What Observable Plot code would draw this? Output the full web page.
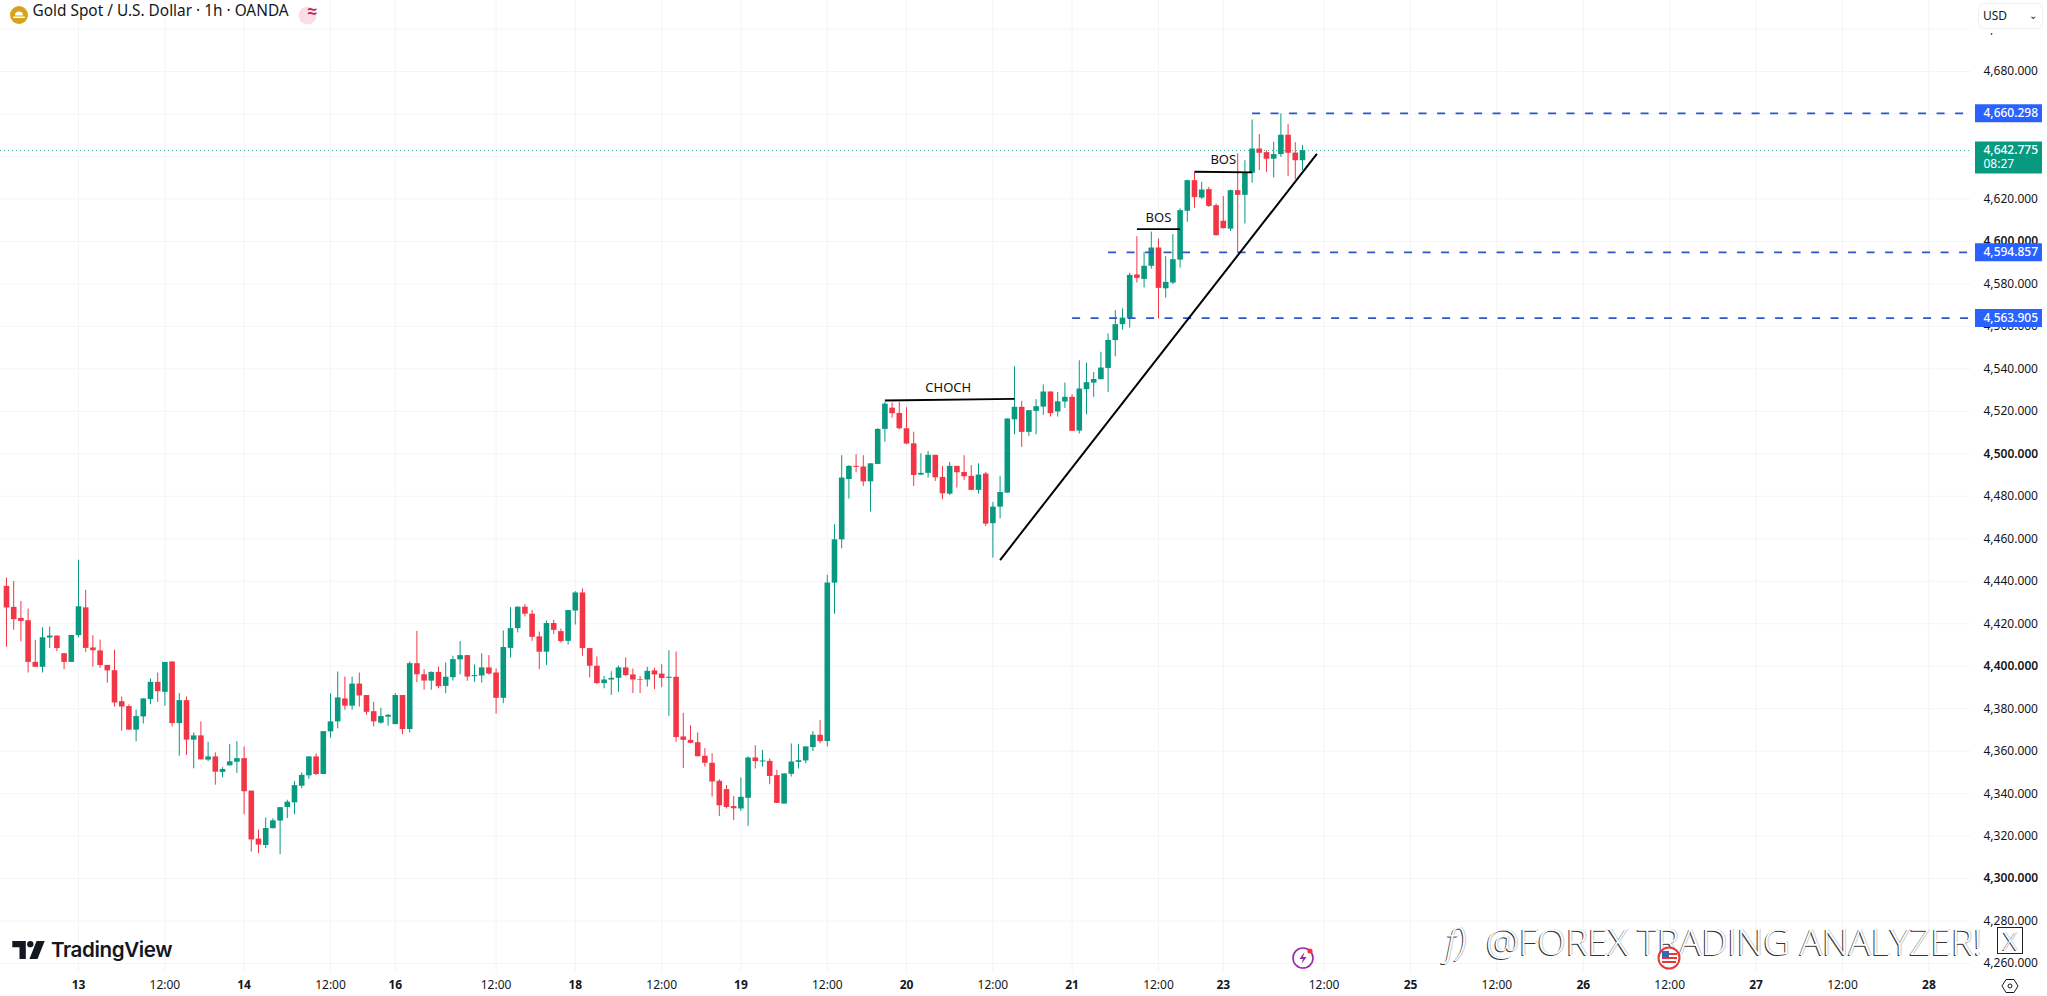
<!DOCTYPE html>
<html><head><meta charset="utf-8">
<style>
html,body{margin:0;padding:0;background:#fff;width:2047px;height:996px;overflow:hidden}
#wrap{position:relative;width:2047px;height:996px}
.ov{position:absolute;pointer-events:none}
#usd{left:1978px;top:3px;width:65px;height:26px;background:#fff;border:1px solid #f0f0f0;border-radius:6px;box-sizing:border-box;font:12px "Noto Sans",sans-serif;color:#131722;line-height:24px;padding-left:4px;box-shadow:0 4px 0 #fff}
#usd span{position:absolute;right:5px;top:-1px;font-size:10px}
#tv{left:51px;top:935px;font:600 20.6px Inter,sans-serif;color:#131722;letter-spacing:-.4px;line-height:30px}
.wm{color:#fff;text-shadow:-1px 1px 0 #333,1px 0 0 #ccc;font-family:"Open Sans",sans-serif;font-weight:300;white-space:nowrap;line-height:40px}
</style>
<script src="https://cdn.jsdelivr.net/npm/d3@7"></script>
<script src="https://cdn.jsdelivr.net/npm/@observablehq/plot@0.6"></script>
</head><body><div id="wrap"></div>
<script>
const opens=[4437.6,4427.7,4422.5,4421.4,4401.8,4399.5,4413.3,4414.2,4405.9,4401.8,4414.4,4427.5,4408.6,4407.2,4400.4,4397.9,4383.3,4381,4369.9,4376.1,4384.3,4392.4,4387.7,4402,4373,4383.8,4365.2,4367.2,4355.8,4357.3,4350,4353.1,4354.8,4356.5,4341.2,4318.6,4315.6,4323.5,4327.1,4333.5,4335.7,4343.5,4348.4,4357.3,4349,4369.1,4373.8,4384.6,4381.2,4391.6,4386.2,4378.6,4373.2,4376,4372.5,4386.2,4370.2,4401.2,4396,4393,4397.1,4390.5,4394.6,4403,4405,4395.1,4395.4,4399.2,4396.8,4384.9,4408.4,4417.7,4427.8,4424.5,4413.8,4406.6,4420.1,4416.3,4411.7,4426,4434.5,4408.3,4400,4391.8,4393.5,4394.3,4399.2,4395.9,4393.7,4393.5,4397.8,4396.3,4394.3,4394.8,4366.7,4365.1,4364,4357.6,4354.3,4345.8,4341.9,4333.9,4332.8,4337.8,4356.8,4354.9,4355.2,4348.5,4335.1,4349.1,4354.7,4355.4,4361.7,4367.5,4364.5,4439.1,4459.5,4487.9,4494.1,4493.8,4486.8,4495,4511.5,4521.5,4519,4511.8,4504.7,4490,4490.8,4499.3,4488.9,4481,4494.1,4491.2,4489.4,4482.8,4490.5,4467.1,4474.9,4481.5,4516,4521.9,4510.1,4520,4522,4529.1,4519.7,4524.4,4526.6,4510.7,4530.2,4533.3,4534.9,4540.2,4553.3,4560.8,4563.8,4584.2,4582.1,4588.3,4596.9,4577.7,4580.4,4591.2,4614.2,4628.6,4620.4,4624.4,4616.8,4609.5,4605.8,4623.9,4621.7,4632.1,4643.5,4641.8,4638.7,4640.9,4650,4641.6,4638];
const highs=[4441.5,4439.9,4430.5,4426.9,4412.2,4418.1,4418.4,4414.2,4405.9,4414.5,4449.9,4435.7,4414.4,4412.3,4400.4,4407.5,4385.5,4381.8,4379.3,4384.6,4394,4396.8,4401.8,4402,4387.1,4385.5,4368.6,4373.8,4364.2,4359.2,4352.2,4363.1,4364.5,4362,4341.2,4322.9,4328.5,4328.2,4333.4,4336.9,4345.7,4349.8,4357.3,4358.7,4369.2,4387,4397.3,4394.9,4394.9,4396.8,4386.2,4383,4380.2,4377.1,4387.1,4386.2,4402,4416.4,4398.4,4397.3,4399.6,4401.5,4404.7,4411.6,4405,4400.6,4405.9,4405,4398.7,4416.6,4427.6,4427.9,4429,4426.3,4416.1,4421.3,4421.6,4417.5,4426.3,4435.1,4436.4,4408.4,4404.4,4395.2,4397.4,4400.1,4403.9,4398.7,4395.2,4399.5,4399,4400.7,4407.3,4406.7,4377.8,4372,4368.6,4361.2,4358.8,4346.6,4343.8,4338.7,4347.4,4357.3,4362.6,4360.4,4356.3,4351,4349.3,4363.4,4363.2,4362,4369.2,4374.4,4442.8,4466.6,4499.1,4494.4,4499.6,4499.1,4495.3,4511.8,4524.2,4523.9,4524.2,4521.7,4510.2,4500,4501.1,4499.3,4494.1,4495.9,4494.1,4499.1,4494.5,4495.3,4491.2,4477.1,4489.4,4516.4,4541,4524.7,4520.4,4525.5,4532.5,4529.1,4528.9,4533.3,4527.8,4543.8,4542.7,4538.3,4547.8,4556.4,4567.4,4568.2,4585,4602.2,4594.9,4604.4,4601.1,4592.8,4603.2,4615.3,4628.9,4632.5,4627.8,4625.5,4617.6,4621.1,4624.2,4641.2,4638,4657.2,4650.3,4642.7,4646.7,4660,4655,4646.5,4645.1];
const lows=[4408.9,4416.9,4411.5,4396.8,4399.5,4396.8,4408.4,4406.8,4398.4,4401.8,4413.3,4406.5,4399.5,4399,4392,4380.8,4369.4,4369.9,4364.4,4372.8,4381.9,4383,4381.2,4371.4,4357.6,4358,4351.7,4355.9,4355.1,4344,4347.5,4353.1,4349.5,4330.1,4312.5,4311.7,4314.1,4323.5,4311.3,4328.3,4330.1,4342.3,4346.7,4348.6,4349,4366.1,4370.5,4379.3,4379.3,4380.7,4376.9,4371.4,4372.7,4371.7,4372.5,4367.7,4368.6,4392.3,4388.7,4388.7,4389.4,4387.1,4393,4396,4392.9,4392.4,4392.1,4395.9,4377.5,4382.4,4403.9,4415.7,4423.2,4411.7,4398.4,4400.4,4414.9,4411,4410,4419.4,4404.7,4394.5,4391.3,4389.4,4386.3,4387.7,4395.2,4387.1,4387.1,4390.2,4389,4389.9,4376.4,4364.2,4351.9,4363.5,4357.3,4352.5,4338.4,4329.3,4332.8,4327.3,4331.7,4324.6,4351.6,4352.5,4344.2,4335.3,4335.1,4347.8,4351.6,4354.1,4359.9,4363.5,4362,4424.5,4455.3,4478.7,4491.2,4484.6,4472.6,4495,4505.4,4516.8,4511.3,4504.3,4484.6,4489.7,4488.6,4487,4478.4,4480.4,4483.9,4487.5,4482.6,4481,4465.8,4450.9,4469.4,4481.5,4509,4503,4508.2,4509,4518.1,4517.3,4517.3,4521.4,4510.6,4509.3,4518.4,4526.6,4534.9,4528.9,4545.7,4558.3,4559.2,4580.4,4578.1,4587,4563.5,4573.3,4579.6,4587.5,4609,4615.6,4619.8,4616,4602.5,4605.8,4604.7,4594.5,4608.2,4627.4,4633.3,4632.5,4629.9,4639.6,4630.5,4629.1,4633.3];
const closes=[4427.4,4421.9,4421.1,4401.8,4399.5,4413.4,4414.2,4408.3,4401.8,4414.5,4428,4408.4,4407.3,4400.3,4397.8,4382.7,4380.8,4369.9,4376.3,4384.6,4392.4,4388,4401.8,4373,4383.8,4365.2,4367.2,4355.9,4357.3,4350.1,4351.4,4355,4356.5,4340.9,4318.2,4315.8,4323.6,4327.2,4333.4,4336,4343.8,4348.6,4357.3,4349,4369.2,4373.8,4385.1,4381.2,4391.6,4386,4378.3,4373.8,4376.3,4376.9,4386.2,4370.2,4401.2,4396,4393,4397.1,4390.4,4394.8,4403.1,4405,4394.9,4395.6,4399.2,4396.3,4384.9,4408.8,4417.7,4427.8,4424.5,4413.6,4406.6,4420.1,4416.9,4411.6,4426.2,4434.5,4408.3,4400,4391.8,4393.5,4394.3,4399.2,4395.6,4393.5,4393.4,4397.6,4395.9,4394.2,4394.8,4366.4,4365.1,4363.7,4357.4,4354.3,4345.5,4334.3,4333.5,4332.9,4338.3,4356.8,4355.1,4355.4,4348.1,4335.4,4349.3,4354.9,4355.5,4362,4367.5,4364.5,4439.2,4459.5,4488.6,4494.1,4493.6,4486.8,4495.3,4511.5,4523.4,4518.9,4511.8,4504.6,4489.8,4490.8,4499.3,4488.7,4481.2,4494.1,4491.1,4489.2,4482.8,4490,4466.9,4474.9,4481.8,4516.4,4521.9,4510.1,4520.3,4522.2,4529.1,4518.9,4524.5,4526.6,4510.6,4530.5,4533.5,4535,4540.4,4553.4,4560.8,4563.9,4584,4582.6,4588.3,4596.9,4577.9,4580.7,4591.4,4614.5,4628.6,4620.6,4624.2,4616.5,4602.7,4606,4623.9,4621.7,4632.4,4643.5,4641.5,4638.7,4640.9,4650,4641.5,4638,4642.775];

const dayTicks=[10,33,54,79,102,125,148,169,195,219,243,267];
const dayLabels=["13","14","16","18","19","20","21","23","25","26","27","28"];
const noonTicks=[22,45,68,91,114,137,160,183,207,231,255];
const boldPrices=[4600,4500,4400,4300];
const plainPrices=[4700,4680,4620,4580,4560,4540,4520,4480,4460,4440,4420,4380,4360,4340,4320,4280,4260];
const coveredPrices=[4660,4640];
const gridPrices=[...plainPrices,...boldPrices,...coveredPrices];
const lastPrice=4642.775;
const countdown="08:27";
const levels=[{v:4660.298,from:173},{v:4594.857,from:153},{v:4563.905,from:148}];
const structure=[
 {name:"CHOCH",x1:122,y1:4525.1,x2:140,y2:4525.9,tx:130.8,ty:4531.2},
 {name:"BOS",x1:157,y1:4605.8,x2:163,y2:4605.8,tx:160,ty:4611.3},
 {name:"BOS",x1:165,y1:4632.8,x2:173,y2:4632.5,tx:169,ty:4638.3}
];
const trend=[{x1:138,y1:4450,x2:182,y2:4641.2}];
const titleText="Gold Spot / U.S. Dollar · 1h · OANDA";

const UP="#089981",DOWN="#f23645",BLUE="#2962ff",DASH="#2f56c8",GRID="#f3f4f7",INK="#131722";
const FONT='"Noto Sans",sans-serif';
const xMax=272.78;
const candles=opens.map((o,i)=>({i,o,h:highs[i],l:lows[i],c:closes[i]}));
const col=d=>d.c>=d.o?UP:DOWN;
const one=[{}];

const chart=Plot.plot({
 width:2047,height:996,marginLeft:0,marginRight:77,marginTop:0,marginBottom:24,
 style:{fontFamily:FONT,background:"#fff",color:INK},
 x:{domain:[-0.8333,xMax],axis:null},
 y:{domain:[4255.8,4713.43],axis:null},
 marks:[
  Plot.gridY({ticks:gridPrices,stroke:GRID,strokeOpacity:1}),
  Plot.gridX({ticks:[...dayTicks,...noonTicks],stroke:GRID,strokeOpacity:1}),
  Plot.ruleY([lastPrice],{stroke:UP,strokeWidth:1,strokeDasharray:"1 3",strokeOpacity:.8}),
  Plot.ruleX(candles,{x:"i",y1:"l",y2:"h",stroke:col,strokeWidth:1}),
  Plot.ruleX(candles,{x:"i",y1:"o",y2:"c",stroke:col,strokeWidth:5.6}),
  Plot.link(levels,{x1:"from",x2:()=>xMax,y1:"v",y2:"v",stroke:DASH,strokeWidth:1.8,strokeDasharray:"8 10.5"}),
  Plot.link(structure,{x1:"x1",y1:"y1",x2:"x2",y2:"y2",stroke:"#000",strokeWidth:1.8}),
  Plot.link(trend,{x1:"x1",y1:"y1",x2:"x2",y2:"y2",stroke:"#000",strokeWidth:2}),
  Plot.text(structure,{x:"tx",y:"ty",text:"name",fill:"#111",fontSize:13}),
  Plot.axisY({anchor:"right",ticks:plainPrices,tickSize:0,tickPadding:13,tickFormat:d3.format(",.3f"),label:null,fontSize:12,fill:INK}),
  Plot.axisY({anchor:"right",ticks:boldPrices,tickSize:0,tickPadding:13,tickFormat:d3.format(",.3f"),label:null,fontSize:12,fontWeight:600,fill:INK}),
  Plot.axisX({anchor:"bottom",ticks:noonTicks,tickSize:0,tickPadding:8,tickFormat:()=>"12:00",label:null,fontSize:12,fill:INK}),
  Plot.axisX({anchor:"bottom",ticks:dayTicks,tickSize:0,tickPadding:8,tickFormat:d=>dayLabels[dayTicks.indexOf(d)],label:null,fontSize:12,fontWeight:700,fill:INK}),
  Plot.ruleY(levels,{y:"v",stroke:BLUE,strokeWidth:18,insetLeft:1975,insetRight:-72}),
  Plot.text(levels,{y:"v",text:d=>d3.format(",.3f")(d.v),frameAnchor:"right",dx:13,textAnchor:"start",fill:"#fff",fontSize:12,fontWeight:500}),
  Plot.ruleY([lastPrice],{dy:7,stroke:UP,strokeWidth:32,insetLeft:1975,insetRight:-72}),
  Plot.text([lastPrice],{y:d=>d,text:d=>d3.format(",.3f")(d),frameAnchor:"right",dx:13,textAnchor:"start",fill:"#fff",fontSize:12,fontWeight:500}),
  Plot.text([lastPrice],{y:d=>d,text:()=>countdown,frameAnchor:"right",dx:13,dy:14,textAnchor:"start",fill:"#fff",fontSize:12}),
  Plot.text(one,{text:()=>titleText,frameAnchor:"top-left",dx:32,dy:5,textAnchor:"start",fontSize:15.4,fill:INK}),
  Plot.dot(one,{frameAnchor:"top-left",dx:307,dy:15,r:9,fill:"#fbdde6"}),
  Plot.text(one,{text:()=>"≈",frameAnchor:"top-left",dx:307,dy:4,fontSize:17,fontWeight:700,fill:"#c2255c"})
 ]
});
const wrap=document.getElementById("wrap");
wrap.appendChild(chart);
wrap.insertAdjacentHTML("beforeend",`
<div class="ov" id="usd">USD<span>⌄</span></div>
<svg class="ov" style="left:10px;top:6px" width="18" height="18" viewBox="0 0 18 18"><circle cx="9" cy="9" r="9" fill="#d9a21b"/><path d="M5 9.5a4 4 0 0 1 8 0z" fill="#fff"/><rect x="3" y="10.5" width="12" height="1.4" rx=".7" fill="#fff"/></svg>
<svg class="ov" style="left:12px;top:941px" width="33" height="18" viewBox="0 0 36 20"><path d="M0 0h15v20H8V7H0z" fill="#131722"/><circle cx="20" cy="3.5" r="3.5" fill="#131722"/><path d="M27 0h9l-8 20h-9z" fill="#131722"/></svg>
<div class="ov" id="tv">TradingView</div>
<div class="ov wm" style="left:1486px;top:921px;font-size:37px;letter-spacing:0">@FOREX TRADING ANALYZER!</div>
<div class="ov wm" style="left:1446px;top:921px;font-size:37px;font-style:italic">f)</div>
<div class="ov wm" style="left:1997px;top:927px;width:26px;height:27px;border:1px solid #222;box-sizing:border-box;font-size:26px;line-height:25px;text-align:center">X</div>
<svg class="ov" style="left:1290px;top:945px" width="26" height="26" viewBox="0 0 26 26"><circle cx="13" cy="13" r="10" fill="#fff" stroke="#9c27b0" stroke-width="1.6"/><path d="M14.5 7l-5 7h3.5l-1.5 5 5-7h-3.5z" fill="#9c27b0"/><circle cx="20" cy="6" r="2.6" fill="#f23645"/></svg>
<svg class="ov" style="left:1657px;top:946px" width="24" height="24" viewBox="0 0 24 24"><circle cx="12" cy="12" r="10.5" fill="#fff" stroke="#e53935" stroke-width="2"/><rect x="5" y="7" width="15" height="2" fill="#e53935"/><rect x="5" y="11" width="15" height="2" fill="#e53935"/><rect x="5" y="5" width="7" height="7" fill="#3f63b5"/><rect x="5" y="15" width="14" height="2" fill="#e53935"/></svg>
<svg class="ov" style="left:2001px;top:977px" width="18" height="18" viewBox="0 0 18 18"><path d="M5 2.5h8L17 9l-4 6.5H5L1 9z" fill="none" stroke="#131722"/><circle cx="9" cy="9" r="2" fill="none" stroke="#131722"/></svg>`);
</script></body></html>
